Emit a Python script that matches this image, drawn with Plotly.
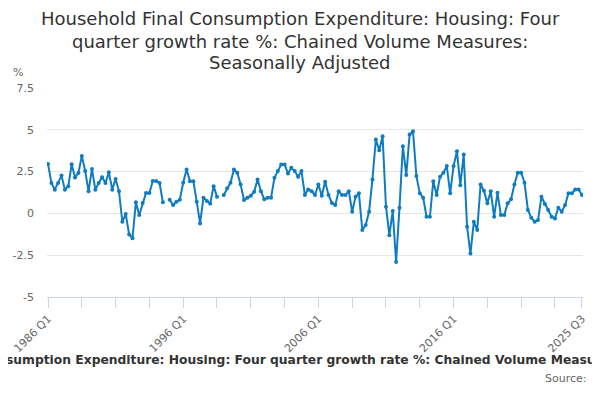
import plotly.graph_objects as go

years = list(range(1986, 2026))
quarters = [f"{y} Q{q}" for y in years for q in range(1, 5)][:159]

values = [
    2.96, 1.82, 1.42, 1.82, 2.26, 1.42, 1.62, 2.94, 2.14, 2.42,
    3.44, 2.54, 1.32, 2.66, 1.42, 1.82, 2.16, 1.82, 2.46, 1.42,
    2.06, 1.32, -0.5, -0.04, -1.26, -1.48, 0.66, -0.1, 0.62, 1.22,
    1.22, 1.94, 1.94, 1.82, 0.66, None, 0.82, 0.5, 0.7, 0.82,
    1.83, 2.63, 1.93, 1.93, 0.7, -0.6, 0.94, 0.74, 0.58, 1.63,
    1.0, None, 1.1, 1.5, 1.83, 2.63, 2.43, 1.73, 0.8, 0.94,
    1.06, 1.3, 2.03, 1.33, 0.84, 0.94, 0.94, 2.13, 2.53, 2.93,
    2.93, 2.39, 2.73, 2.53, 2.19, 2.53, 1.1, 1.43, 1.33, 1.1,
    1.73, 1.06, 1.89, 1.1, 0.62, 0.5, 1.33, 1.1, 1.1, 1.33,
    0.1, 1.0, 1.2, -1.0, -0.7, 0.1, 2.03, 4.42, 3.78, 4.62,
    0.4, -1.3, 0.14, -2.9, 0.34, 4.02, 2.29, 4.72, 4.92, 2.23,
    1.2, 0.94, -0.2, -0.2, 1.93, 1.1, 2.19, 2.43, 2.83, 1.2,
    2.83, 3.72, 1.69, 3.52, -0.8, -2.4, -0.5, -1.0, 1.73, 1.35,
    0.6, 1.33, -0.2, 1.23, -0.1, -0.1, 0.6, 0.84, 1.73, 2.43,
    2.43, 1.83, 0.2, -0.26, -0.5, -0.4, 1.0, 0.56, 0.2, -0.2,
    -0.3, 0.34, 0.1, 0.5, 1.2, 1.2, 1.43, 1.43, 1.1,
]

tick_idx = list(range(0, 159, 10)) + [158]
tick_vals = [quarters[i] for i in tick_idx]
label_set = {"1986 Q1", "1996 Q1", "2006 Q1", "2016 Q1", "2025 Q3"}
tick_text = [q if q in label_set else "" for q in tick_vals]

y_ticks = [-5, -2.5, 0, 2.5, 5, 7.5]
y_text = ["-5", "-2.5", "0", "2.5", "5", "7.5"]

title_lines = ["Household Final Consumption Expenditure: Housing: Four",
               "quarter growth rate %: Chained Volume Measures:",
               "Seasonally Adjusted"]
title_y_px = [18, 41, 63]
caption = ("Household Final Consumption Expenditure: Housing: Four quarter growth rate %: "
           "Chained Volume Measures: Seasonally Adjusted")

line_color = "#0f7cc2"
font_family = "DejaVu Sans"

# The page body has an 8px default margin; lay out in window pixels minus it.
OFF = 8
W, H = 600 - OFF, 400 - OFF
plot_left, plot_right, plot_top, plot_bottom = 47, 583, 88, 297  # window px
L = plot_left - OFF
T = plot_top - OFF
R = W - (plot_right - OFF)
B = H - (plot_bottom - OFF)
pw, ph = W - L - R, H - T - B


def px_x(x):
    return (x - OFF - L) / pw


def px_y(y):
    return (H - B - (y - OFF)) / ph


fig = go.Figure()
fig.add_trace(go.Scatter(
    x=quarters, y=values, mode="lines+markers",
    line=dict(color=line_color, width=2),
    marker=dict(color=line_color, size=4),
    connectgaps=False, showlegend=False,
))

annotations = []
for line, ypx in zip(title_lines, title_y_px):
    annotations.append(dict(
        text=line, xref="paper", yref="paper", x=px_x(300), y=px_y(ypx),
        xanchor="center", yanchor="middle", showarrow=False,
        font=dict(family=font_family, size=18, color="#333333")))
annotations += [
    dict(text="%", xref="paper", yref="paper", x=px_x(18), y=px_y(73),
         xanchor="center", yanchor="middle", showarrow=False,
         font=dict(size=11, color="#666666")),
    dict(text="<b>" + caption + "</b>", xref="paper", yref="paper",
         x=0.5, y=px_y(360), xanchor="center",
         yanchor="middle", showarrow=False,
         font=dict(size=12.3, color="#333333")),
    dict(text="Source:", xref="paper", yref="paper",
         x=px_x(589), y=px_y(378), xanchor="right",
         yanchor="middle", showarrow=False,
         font=dict(size=11, color="#666666")),
]

fig.update_layout(
    width=W, height=H,
    margin=dict(l=L, r=R, t=T, b=B, autoexpand=False),
    paper_bgcolor="white", plot_bgcolor="white",
    font=dict(family=font_family, color="#666666", size=11),
    xaxis=dict(
        type="category", range=[-0.3, 158.3], automargin=False,
        tickmode="array", tickvals=tick_vals, ticktext=tick_text,
        tickangle=-45, ticks="outside", ticklen=10, tickcolor="#ccd6eb",
        showline=True, linecolor="#ccd6eb", linewidth=1,
        showgrid=False, tickfont=dict(size=11, color="#666666"),
    ),
    yaxis=dict(
        range=[-5, 7.5], tickmode="array", tickvals=y_ticks, ticktext=y_text,
        automargin=False, ticklabelstandoff=12,
        showgrid=True, gridcolor="#e6e6e6", gridwidth=1, zeroline=False,
        showline=False, ticks="", tickfont=dict(size=11, color="#666666"),
    ),
    annotations=annotations,
)

fig.write_html("out.html")
